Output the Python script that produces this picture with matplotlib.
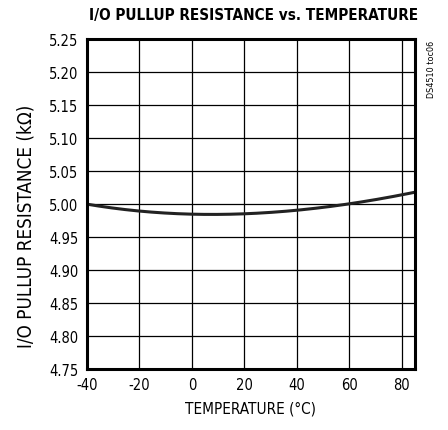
import matplotlib
matplotlib.use("Agg")
import matplotlib.pyplot as plt
import numpy as np

temps = [-40, -20, 0, 20, 40, 60, 85]
resistance = [5.000, 4.989, 4.985, 4.985, 4.991, 5.000, 5.018]
xticks = [-40, -20, 0, 20, 40, 60, 80]
yticks = [4.75, 4.80, 4.85, 4.90, 4.95, 5.00, 5.05, 5.10, 5.15, 5.20, 5.25]

plt.rcParams["font.family"] = ["DejaVu Sans"]
plt.rcParams["font.stretch"] = "condensed"
plt.rcParams["axes.unicode_minus"] = False

fig = plt.figure(figsize=(4.48, 4.31), dpi=100)
ax = fig.add_axes([0.194, 0.1415, 0.732, 0.7655])

# smooth curve through the read points
t = np.linspace(-40, 85, 200)
coef = np.polyfit(temps, resistance, 3)
ax.plot(t, np.polyval(coef, t), color="#222222", lw=2.2)

ax.set_xlim(-40, 85)
ax.set_ylim(4.75, 5.25)
ax.set_xticks(xticks)
ax.set_yticks(yticks)
ax.set_yticklabels([f"{v:.2f}" for v in yticks])
ax.grid(True, color="black", lw=0.9)
ax.tick_params(length=0, labelsize=10.5, pad=6)
for s in ax.spines.values():
    s.set_linewidth(2.2)

ax.set_xlabel("TEMPERATURE (°C)", fontsize=11, labelpad=6)
fig.text(0.058, 0.475, "I/O PULLUP RESISTANCE (kΩ)", rotation=90,
         ha="center", va="center", fontsize=13.5)
fig.text(0.565, 0.965, "I/O PULLUP RESISTANCE vs. TEMPERATURE", ha="center",
         va="center", fontsize=11, fontweight="bold")
fig.text(0.964, 0.905, "DS4510 toc06", rotation=90, ha="center", va="top",
         fontsize=6.5)

fig.savefig("out.png", dpi=100)
